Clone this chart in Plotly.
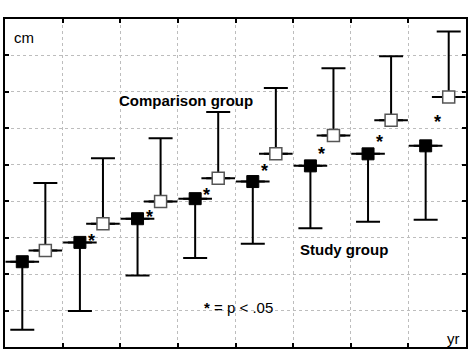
import plotly.graph_objects as go

years = [1, 2, 3, 4, 5, 6, 7, 8]

study_mean = [2.34, 2.87, 3.52, 4.07, 4.54, 4.97, 5.30, 5.52]
study_low = [0.47, 0.99, 1.96, 2.44, 2.83, 3.26, 3.44, 3.49]

comp_mean = [2.65, 3.38, 3.99, 4.63, 5.30, 5.80, 6.22, 6.86]
comp_high = [4.50, 5.18, 5.73, 6.45, 7.11, 7.65, 7.98, 8.66]

sig_years = [2, 3, 4, 5, 6, 7, 8]
sig_y = [3.03, 3.69, 4.29, 4.95, 5.41, 5.73, 6.28]

STUDY_OFF = -0.7
COMP_OFF = -0.3

xs = [y + STUDY_OFF for y in years]
xc = [y + COMP_OFF for y in years]

fig = go.Figure()

# Study group: lower whiskers
fig.add_trace(go.Scatter(
    x=xs, y=study_mean, mode="markers",
    marker=dict(symbol="line-ew", size=24, line=dict(color="black", width=2)),
    error_y=dict(type="data", symmetric=False,
                 array=[0] * len(study_mean),
                 arrayminus=[m - l for m, l in zip(study_mean, study_low)],
                 color="black", thickness=2, width=12),
    showlegend=False, hoverinfo="skip"))
fig.add_trace(go.Scatter(
    x=xs, y=study_mean, mode="markers",
    marker=dict(symbol="square", size=12, color="black",
                line=dict(color="black", width=1)),
    showlegend=False))

# Comparison group: upper whiskers
fig.add_trace(go.Scatter(
    x=xc, y=comp_mean, mode="markers",
    marker=dict(symbol="line-ew", size=24, line=dict(color="black", width=2)),
    error_y=dict(type="data", symmetric=False,
                 array=[h - m for h, m in zip(comp_high, comp_mean)],
                 arrayminus=[0] * len(comp_mean),
                 color="black", thickness=2, width=12),
    showlegend=False, hoverinfo="skip"))
fig.add_trace(go.Scatter(
    x=xc, y=comp_mean, mode="markers",
    marker=dict(symbol="square", size=12, color="white",
                line=dict(color="#555555", width=1.5)),
    showlegend=False))

font = "Arial, Liberation Sans, sans-serif"
annotations = []
for yr, sy in zip(sig_years, sig_y):
    annotations.append(dict(x=yr + STUDY_OFF + 0.2, y=sy, xref="x", yref="y",
                            text="<b>*</b>", showarrow=False,
                            font=dict(family=font, size=18, color="black"),
                            xanchor="center", yanchor="middle", yshift=-4))

annotations += [
    dict(x=186, y=100, xref="paper", yref="paper", text="<b>Comparison group</b>"),
    dict(x=343.5, y=249, xref="paper", yref="paper", text="<b>Study group</b>"),
    dict(x=238, y=307, xref="paper", yref="paper", text="<b>*</b> = p < .05"),
    dict(x=24, y=37, xref="paper", yref="paper", text="cm"),
    dict(x=453, y=338, xref="paper", yref="paper", text="yr"),
]

# convert pixel-positioned labels to paper coords
L, R, T, B = 5, 8, 19, 5
W, H = 474, 352
pw, ph = W - L - R, H - T - B
for a in annotations:
    if a.get("xref") == "paper":
        a["x"] = (a["x"] - L) / pw
        a["y"] = 1 - (a["y"] - T) / ph
        a.update(showarrow=False, xanchor="center", yanchor="middle",
                 font=dict(family=font, size=15, color="black"))

axis_common = dict(showline=True, linewidth=2, linecolor="black", mirror="allticks",
                   ticks="inside", ticklen=4, tickwidth=1.5, tickcolor="black",
                   showticklabels=False, showgrid=True, gridcolor="#bdbdbd",
                   griddash="dot", gridwidth=1, zeroline=False, dtick=1)

fig.update_layout(
    width=W, height=H,
    margin=dict(l=L, r=R, t=T, b=B),
    paper_bgcolor="white", plot_bgcolor="white",
    xaxis=dict(range=[0, 8], tick0=0, **axis_common),
    yaxis=dict(range=[0, 9], tick0=0, **axis_common),
    annotations=annotations,
    showlegend=False,
)

fig.write_html("out.html")
